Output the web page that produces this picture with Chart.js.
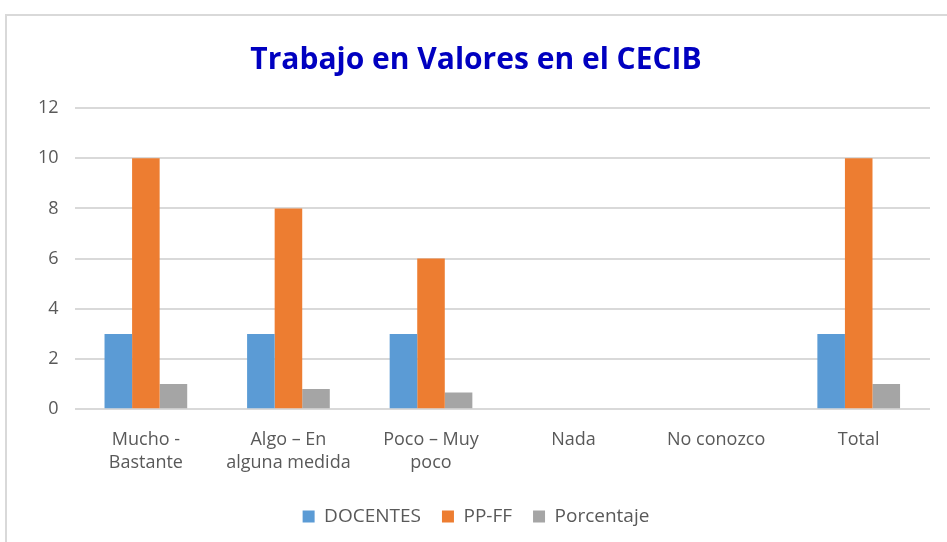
<!DOCTYPE html>
<html>
<head>
<meta charset="utf-8">
<script src="https://cdn.jsdelivr.net/npm/chart.js@4/dist/chart.umd.min.js"></script>
<style>
  html, body { margin: 0; padding: 0; background: #fff; }
  #frame { position: absolute; left: 5px; top: 14px; width: 950px; height: 540px; border: 2px solid #d9d9d9; box-sizing: border-box; }
  #wrap { position: absolute; left: 0; top: 0; width: 947px; height: 542px; }
</style>
</head>
<body>
<div id="frame"></div>
<div id="wrap"><canvas id="bar-chart"></canvas></div>
<script>
const categories = [
  ["Mucho -", "Bastante"],
  ["Algo \u2013 En", "alguna medida"],
  ["Poco \u2013 Muy", "poco"],
  "Nada",
  "No conozco",
  "Total"
];
const docentes = [3, 3, 3, 0, 0, 3];
const ppff = [10, 8, 6, 0, 0, 10];
const porcentaje = [1, 0.8, 0.67, 0, 0, 1];
const yTicks = [0, 2, 4, 6, 8, 10, 12];

const font = "Open Sans, Liberation Sans, sans-serif";

new Chart(document.getElementById("bar-chart"), {
  type: 'bar',
  data: {
    labels: categories,
    datasets: [{
        data: docentes,
        label: "DOCENTES",
        backgroundColor: "#5b9bd5",
        categoryPercentage: 0.58,
        barPercentage: 1
      }, {
        data: ppff,
        label: "PP-FF",
        backgroundColor: "#ed7d31",
        categoryPercentage: 0.58,
        barPercentage: 1
      }, {
        data: porcentaje,
        label: "Porcentaje",
        backgroundColor: "#a5a5a5",
        categoryPercentage: 0.58,
        barPercentage: 1
      }
    ]
  },
  options: {
    responsive: true,
    maintainAspectRatio: false,
    animation: false,
    layout: { padding: { left: 22, right: 17, top: 20, bottom: 6 } },
    plugins: {
      title: {
        display: true,
        text: 'Trabajo en Valores en el CECIB',
        color: '#0000c0',
        font: { family: font, size: 30, weight: 'bold' },
        padding: { top: 22, bottom: 30 }
      },
      legend: {
        position: 'bottom',
        labels: {
          color: '#595959',
          font: { family: font, size: 19 },
          boxWidth: 12,
          boxHeight: 12,
          padding: 21
        }
      },
      tooltip: { enabled: false }
    },
    scales: {
      x: {
        grid: { display: false },
        border: { display: false },
        ticks: {
          color: '#595959',
          font: { family: font, size: 18, lineHeight: 1.3 },
          maxRotation: 0,
          padding: 11
        }
      },
      y: {
        min: 0,
        max: 12,
        afterBuildTicks: axis => { axis.ticks = yTicks.map(v => ({ value: v })); },
        grid: { color: '#d9d9d9', lineWidth: 2, drawTicks: false },
        border: { display: false },
        ticks: {
          color: '#595959',
          font: { family: font, size: 18 },
          padding: 16
        }
      }
    }
  }
});
</script>
</body>
</html>
